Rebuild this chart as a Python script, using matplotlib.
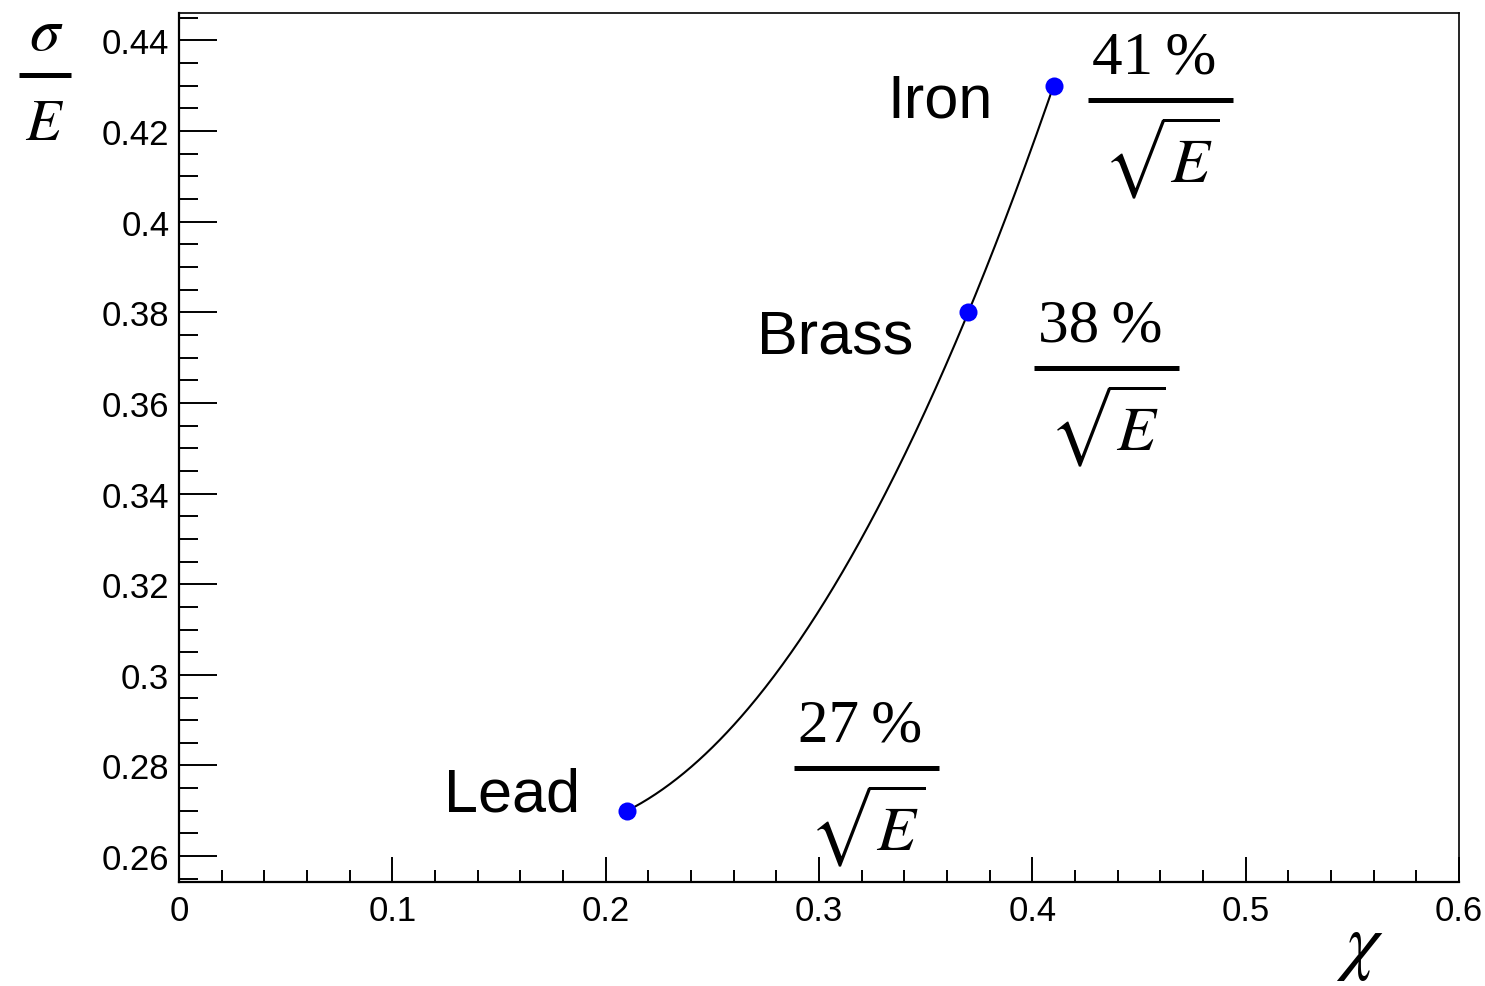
import numpy as np
import matplotlib
matplotlib.use("Agg")
import matplotlib.pyplot as plt
from matplotlib.lines import Line2D
from matplotlib.ticker import MultipleLocator, FixedFormatter, FixedLocator

# ---------------- data ----------------
materials = ["Lead", "Brass", "Iron"]
chi = [0.21, 0.37, 0.41]
resolution = [0.27, 0.38, 0.43]
stochastic_pct = ["27", "38", "41"]

x_ticks = [0.0, 0.1, 0.2, 0.3, 0.4, 0.5, 0.6]
x_ticklabels = ["0", "0.1", "0.2", "0.3", "0.4", "0.5", "0.6"]
y_ticks = [0.26, 0.28, 0.30, 0.32, 0.34, 0.36, 0.38, 0.40, 0.42, 0.44]
y_ticklabels = ["0.26", "0.28", "0.3", "0.32", "0.34", "0.36", "0.38", "0.4", "0.42", "0.44"]

# ---------------- figure ----------------
W, H = 1485, 987
plt.rcParams["mathtext.fontset"] = "stix"
fig = plt.figure(figsize=(W / 100, H / 100), dpi=100)
fig.patch.set_facecolor("white")

def fx(px):
    return px / W

def fy(py):
    return 1 - py / H

ax = fig.add_axes([fx(179), fy(883), (1459 - 179) / W, (883 - 14) / H])
ax.set_xlim(0, 0.6)
ax.set_ylim(0.2543, 0.446)

# smooth curve through the points (quadratic through the three measurements)
coef = np.polyfit(chi, resolution, 2)
xs = np.linspace(min(chi), max(chi), 300)
ax.plot(xs, np.polyval(coef, xs), color="black", lw=1.5, zorder=2)
ax.plot(chi, resolution, "o", color="#0000ff", markersize=13, markeredgewidth=0, zorder=3)

# ticks
ax.xaxis.set_major_locator(FixedLocator(x_ticks))
ax.xaxis.set_major_formatter(FixedFormatter(x_ticklabels))
ax.xaxis.set_minor_locator(MultipleLocator(0.02))
ax.yaxis.set_major_locator(FixedLocator(y_ticks))
ax.yaxis.set_major_formatter(FixedFormatter(y_ticklabels))
ax.yaxis.set_minor_locator(MultipleLocator(0.005))

tick_family = ["Liberation Sans", "DejaVu Sans"]
ax.tick_params(axis="both", which="both", direction="in", top=False, right=False, width=1.4, color="black")
ax.tick_params(axis="x", which="major", length=18, pad=9)
ax.tick_params(axis="x", which="minor", length=9)
ax.tick_params(axis="y", which="major", length=27, pad=7)
ax.tick_params(axis="y", which="minor", length=14)
for lab in ax.get_xticklabels() + ax.get_yticklabels():
    lab.set_fontfamily(tick_family)
    lab.set_fontsize(25)

for side in ["left", "bottom"]:
    ax.spines[side].set_linewidth(1.6)
for side in ["top", "right"]:
    ax.spines[side].set_linewidth(1.2)

# ---------------- point labels ----------------
sans = ["Liberation Sans", "DejaVu Sans"]
serif = ["Liberation Serif", "DejaVu Serif"]
label_anchor = {"Iron": (993, 117), "Brass": (913, 354), "Lead": (580, 812)}
for name in materials:
    px, py = label_anchor[name]
    fig.text(fx(px), fy(py), name, ha="right", va="baseline", fontsize=44, family=sans)

# ---------------- fractions  a% / sqrt(E) ----------------
frac_bar = {"27": (794, 939, 769), "38": (1034, 1179, 369), "41": (1088, 1233, 101)}
for pct in stochastic_pct:
    x0, x1, yb = frac_bar[pct]
    xc = 0.5 * (x0 + x1)
    fig.add_artist(Line2D([fx(x0), fx(x1)], [fy(yb), fy(yb)], transform=fig.transFigure,
                          color="black", lw=3.6, solid_capstyle="butt"))
    fig.text(fx(xc - 6), fy(yb - 27), pct + "\u2009%", ha="center", va="baseline",
             fontsize=44, family=serif)
    fig.text(fx(xc + 1), fy(yb + 81), r"$\sqrt{E}$", ha="center", va="baseline", fontsize=46)

# ---------------- axis titles ----------------
fig.text(fx(46), fy(50), r"$\sigma$", ha="center", va="baseline", fontsize=44)
fig.add_artist(Line2D([fx(19), fx(71)], [fy(76), fy(76)], transform=fig.transFigure,
                      color="black", lw=3.6, solid_capstyle="butt"))
fig.text(fx(45), fy(140), r"$E$", ha="center", va="baseline", fontsize=42)
fig.text(fx(1360), fy(966), r"$\chi$", ha="center", va="baseline", fontsize=54)

fig.savefig("out.png", dpi=100)
